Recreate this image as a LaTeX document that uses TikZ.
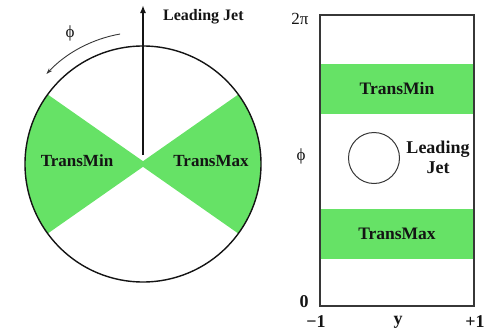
\documentclass[tikz,border=0pt]{standalone}
\usepackage{fontspec}
\setmainfont{Liberation Serif}
\usetikzlibrary{arrows.meta,calc}
\definecolor{regiongreen}{RGB}{102,226,102}
\definecolor{ink}{RGB}{20,20,20}
\tikzset{
  lbl/.style={font=\bfseries\fontsize{17}{19}\selectfont, text=ink, inner sep=0pt},
  axislbl/.style={font=\fontsize{17}{19}\selectfont, text=ink, inner sep=0pt},
  axisnum/.style={font=\bfseries\fontsize{18}{20}\selectfont, text=ink, inner sep=0pt},
  band/.style={fill=regiongreen, draw=none},
}
\begin{document}
\begin{tikzpicture}[x=1pt,y=-1pt]
  \useasboundingbox (0,0) rectangle (485,332);

  % ---- azimuthal view (y axis points down, so angles run clockwise) ----
  \coordinate (c) at (143,164);
  % transverse wedges (+-35 deg around the horizontal), cut off by the circle
  \begin{scope}
    \clip (c) circle[radius=118];
    \fill[regiongreen] (147,164) -- (-16.8,49.3) -- (-16.8,278.7) -- cycle;
    \fill[regiongreen] (139,164) -- (302.8,49.3) -- (302.8,278.7) -- cycle;
  \end{scope}
  \draw[ink, line width=1.4pt] (c) circle[radius=118];
  % leading jet direction
  \coordinate (jettip) at (143,5);
  \draw[ink, line width=2.4pt, -{Latex[length=8pt,width=6pt]}] (143,155) -- (jettip);
  \node[lbl, font=\bfseries\fontsize{16}{18}\selectfont, anchor=west] (jetlbl) at (163,17) {Leading Jet};
  % phi rotation arrow
  \draw[ink!85, line width=0.9pt, -{Stealth[length=6pt,width=4pt]}]
    ($(c)+(-100:132)$) arc[start angle=-100, end angle=-137, radius=132];
  \node[axislbl] (phileft) at (70,33) {ϕ};
  \node[lbl] (tminL) at (77,161) {TransMin};
  \node[lbl] (tmaxL) at (211,161) {TransMax};

  % ---- y-phi plane ----
  \fill[band] (320,64) rectangle (474,114);
  \fill[band] (320,209) rectangle (474,259);
  \draw[ink!85, line width=1.4pt] (320,15) rectangle (474,306);
  \draw[ink!85, line width=1pt] (374,158) circle[radius=25.5];
  \node[lbl, font=\bfseries\fontsize{18}{20}\selectfont] (jetR1) at (438,149) {Leading};
  \node[lbl, font=\bfseries\fontsize{18}{20}\selectfont] (jetR2) at (438,168) {Jet};
  \node[lbl, font=\bfseries\fontsize{17.5}{19}\selectfont] (tminR) at (397,89) {TransMin};
  \node[lbl, font=\bfseries\fontsize{17.5}{19}\selectfont] (tmaxR) at (397,234) {TransMax};
  \node[axislbl] (twopi) at (300,19) {2π};
  \node[axislbl] (phiR) at (301,156) {ϕ};
  \node[axisnum] (zero) at (304,302) {0};
  \node[axisnum] (ymin) at (316,322) {−1};
  \node[axisnum] (ylab) at (398,322) {y};
  \node[axisnum] (ymax) at (475,322) {+1};
\end{tikzpicture}
\end{document}
